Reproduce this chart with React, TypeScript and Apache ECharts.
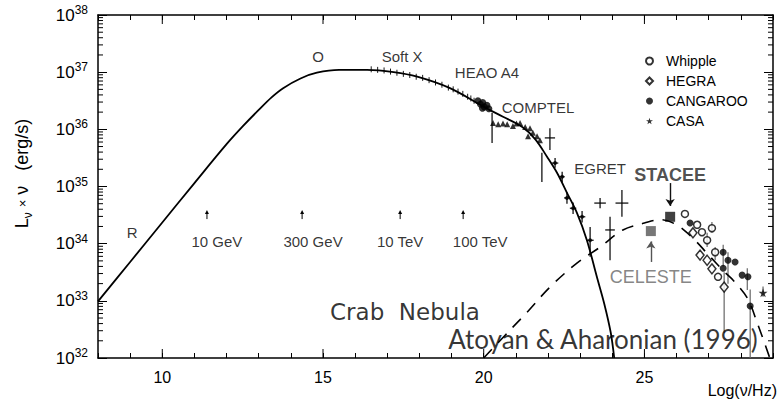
import React, { useEffect, useRef } from "react";
import * as echarts from "echarts";

const FONT = "'Liberation Sans', Arial, sans-serif";

// axis ranges (log10 values)
const X_MIN = 8;
const X_MAX = 29;
const Y_MIN = 32;
const Y_MAX = 38;
const xTickLabels = [10, 15, 20, 25];
const xMajorTicks = [10, 15, 20, 25];

// synchrotron model curve (log nu, log L*nu)
const syncX = [8.0, 9.0, 10.0, 11.0, 12.0, 12.5, 13.0, 13.4, 13.76, 14.3, 14.81, 15.5, 16.37, 17.2, 17.93, 18.95, 19.98, 20.6, 21.2, 21.6, 21.97, 22.28, 22.59, 22.9, 23.21, 23.53, 23.75, 23.95, 24.06];
const syncY = [32.99, 33.68, 34.37, 35.06, 35.74, 36.05, 36.34, 36.56, 36.72, 36.89, 36.99, 37.04, 37.04, 37.0, 36.92, 36.72, 36.4, 36.22, 36.04, 35.83, 35.52, 35.24, 34.89, 34.54, 34.06, 33.4, 32.95, 32.45, 32.0];

// inverse Compton model curve (dashed)
const icX = [20.0, 20.82, 21.35, 22.06, 22.9, 23.62, 24.33, 25.0, 25.5, 26.0, 26.5, 27.0, 27.5, 27.76, 28.2, 28.5, 28.9];
const icY = [32.0, 32.49, 32.8, 33.24, 33.66, 33.94, 34.24, 34.36, 34.42, 34.33, 34.1, 33.8, 33.5, 33.36, 33.05, 32.63, 32.0];

// optical / X-ray measurements (short vertical error marks)
const optXrayPts = [[16.5, 37.05], [16.7, 37.04], [16.9, 37.03], [17.1, 37.01], [17.3, 36.99], [17.5, 36.97], [17.7, 36.95], [17.9, 36.92], [18.1, 36.9], [18.3, 36.86], [18.5, 36.82], [18.7, 36.78], [18.9, 36.73], [19.05, 36.7], [19.2, 36.66], [19.35, 36.62], [19.5, 36.57], [19.6, 36.54], [19.7, 36.5]];

// HEAO A4 cluster
const heaoPts = [[19.82, 36.5], [19.9, 36.44], [19.97, 36.47], [20.02, 36.39], [20.1, 36.42], [19.96, 36.37], [20.16, 36.36]];

// COMPTEL triangles
const comptelPts = [[20.29, 36.11], [20.45, 36.09], [20.6, 36.1], [20.73, 36.09], [20.91, 36.06], [21.02, 36.1], [21.13, 36.11], [21.29, 36.04], [21.44, 36.02], [21.53, 35.94], [21.66, 35.88], [21.38, 35.88], [21.75, 35.81]];

// EGRET points
const egretPts = [[22.22, 35.41], [22.44, 35.17], [22.59, 34.8], [22.78, 34.62], [23.06, 34.47], [23.31, 34.06]];

// error bars [x, y, yLow, yHigh, xLow, xHigh]
const errBlack = [
  [20.26, 36.12, 35.76, 36.29, 20.26, 20.26],
  [22.06, 35.85, 35.64, 36.02, 21.9, 22.22],
  [21.81, 35.46, 35.08, 35.59, 21.81, 21.81],
  [22.22, 35.41, 35.33, 35.5, 22.12, 22.32],
  [22.44, 35.17, 35.08, 35.26, 22.36, 22.52],
  [22.59, 34.8, 34.7, 34.9, 22.5, 22.68],
  [22.78, 34.62, 34.52, 34.72, 22.68, 22.88],
  [23.06, 34.47, 34.37, 34.57, 22.96, 23.16],
  [23.31, 34.06, 33.77, 34.29, 23.2, 23.42],
  [23.62, 34.71, 34.62, 34.8, 23.44, 23.8],
  [24.3, 34.71, 34.47, 34.94, 24.1, 24.5],
  [23.93, 34.24, 33.71, 34.47, 23.78, 24.08],
];
const errGray = [
  [27.48, 33.24, 32.44, 33.5, 27.48, 27.48],
  [28.29, 32.91, 32.0, 33.2, 28.29, 28.29],
  [27.1, 34.27, 34.19, 34.38, 27.1, 27.1],
  [27.45, 33.85, 33.6, 33.98, 27.45, 27.45],
  [28.2, 33.42, 33.19, 33.57, 28.2, 28.2],
  [27.2, 33.85, 33.71, 33.94, 27.2, 27.2],
  [26.95, 34.06, 33.94, 34.19, 26.95, 26.95],
  [27.6, 33.71, 33.3, 33.85, 27.6, 27.6],
  [28.69, 33.14, 33.07, 33.25, 28.69, 28.69],
];

// TeV experiments
const whipplePts = [[26.26, 34.52], [26.64, 34.33], [26.79, 34.2], [26.95, 34.06], [27.1, 34.27], [27.2, 33.85], [27.29, 33.42]];
const hegraPts = [[26.51, 34.19], [26.73, 33.8], [26.95, 33.71], [27.1, 33.56], [27.48, 33.24]];
const cangarooPts = [[26.42, 34.36], [27.45, 33.85], [27.6, 33.71], [27.82, 33.68], [27.45, 33.57], [28.04, 33.45], [28.22, 33.42], [28.29, 32.91]];
const casaPts = [[28.69, 33.14]];
const celestePts = [[25.2, 34.22]];
const staceePts = [[25.8, 34.47]];
const legendNames = ["Whipple", "HEGRA", "CANGAROO", "CASA"];

// annotations
const bandLabels = ["R", "O", "Soft X", "HEAO A4", "COMPTEL", "EGRET"];
const bandLabelX = [9.06, 14.85, 17.46, 20.1, 21.69, 23.62];
const bandLabelY = [34.2, 37.27, 37.27, 36.99, 36.39, 35.32];
const energyLabels = ["10 GeV", "300 GeV", "10 TeV", "100 TeV"];
const energyLabelX = [11.7, 14.69, 17.4, 19.89];
const energyLabelY = 34.03;
const energyArrowX = [11.39, 14.35, 17.4, 19.36];
const energyArrowY = 34.5;

const STAR = "path://M50,0 L61,35 L98,35 L68,57 L79,91 L50,70 L21,91 L32,57 L2,35 L39,35 Z";

function errRender(color: string) {
  return (params: any, api: any) => {
    const x = api.value(0), y = api.value(1), ylo = api.value(2), yhi = api.value(3), xlo = api.value(4), xhi = api.value(5);
    const a = api.coord([x, ylo]);
    const b = api.coord([x, yhi]);
    const children: any[] = [
      { type: "line", shape: { x1: a[0], y1: a[1], x2: b[0], y2: b[1] }, style: { stroke: color, lineWidth: 1.2 } },
    ];
    if (xhi > xlo) {
      const l = api.coord([xlo, y]);
      const r = api.coord([xhi, y]);
      children.push({ type: "line", shape: { x1: l[0], y1: l[1], x2: r[0], y2: r[1] }, style: { stroke: color, lineWidth: 1.2 } });
    }
    return { type: "group", children };
  };
}

function labelSeries(xs: number[], ys: number[], texts: string[], style: any) {
  return {
    type: "scatter",
    symbolSize: 0,
    silent: true,
    z: 5,
    data: texts.map((t, i) => ({
      value: [xs[i], ys[i]],
      label: { show: true, position: "inside", formatter: t, ...style },
    })),
  };
}

export default function App() {
  const ref = useRef<HTMLDivElement>(null);
  useEffect(() => {
    if (!ref.current) return;
    const chart = echarts.init(ref.current, undefined, { renderer: "svg" });

    const yMinor: number[][] = [];
    for (let n = Y_MIN; n < Y_MAX; n++) {
      for (let k = 2; k <= 9; k++) yMinor.push([X_MIN, n + Math.log10(k)]);
    }

    const axisLine = { lineStyle: { color: "#000", width: 1.5 } };
    const option: any = {
      animation: false,
      backgroundColor: "#fff",
      textStyle: { fontFamily: FONT },
      grid: { left: 98, top: 15, width: 675, height: 343 },
      legend: {
        orient: "vertical",
        left: 640,
        top: 49,
        itemGap: 6,
        itemWidth: 7,
        itemHeight: 7,
        selectedMode: false,
        data: legendNames,
        textStyle: { fontSize: 14, color: "#000", fontFamily: FONT, padding: [0, 0, 0, 8] },
      },
      xAxis: [
        {
          type: "value", position: "bottom", min: X_MIN, max: X_MAX, interval: 1,
          axisLine, splitLine: { show: false },
          axisTick: { inside: true, length: 5, lineStyle: { color: "#000" } },
          axisLabel: {
            margin: 11, fontSize: 16, color: "#000", fontFamily: FONT,
            formatter: (v: number) => (xTickLabels.includes(v) ? String(v) : ""),
          },
        },
        {
          type: "value", position: "top", min: X_MIN, max: X_MAX, interval: 1,
          axisLine, splitLine: { show: false },
          axisTick: { inside: true, length: 5, lineStyle: { color: "#000" } },
          axisLabel: { show: false },
        },
      ],
      yAxis: [
        {
          type: "value", position: "left", min: Y_MIN, max: Y_MAX, interval: 1,
          axisLine, splitLine: { show: false },
          axisTick: { inside: true, length: 9, lineStyle: { color: "#000" } },
          axisLabel: {
            margin: 10, color: "#000",
            formatter: (v: number) => `{b|10}{s|${v}}`,
            rich: {
              b: { fontSize: 17, color: "#000", fontFamily: FONT, lineHeight: 22 },
              s: { fontSize: 12, color: "#000", fontFamily: FONT, verticalAlign: "top" },
            },
          },
          name: "L{sub|ν} {x|×} ν   (erg/s)",
          nameLocation: "middle",
          nameRotate: 90,
          nameGap: 64,
          nameTextStyle: {
            fontSize: 18, color: "#000", fontFamily: FONT, padding: [0, 0, 0, 26],
            rich: {
              sub: { fontSize: 12, color: "#000", fontFamily: FONT, verticalAlign: "bottom", lineHeight: 24 },
              x: { fontSize: 13, color: "#000", fontFamily: FONT },
            },
          },
        },
        {
          type: "value", position: "right", min: Y_MIN, max: Y_MAX, interval: 1,
          axisLine, splitLine: { show: false },
          axisTick: { inside: true, length: 9, lineStyle: { color: "#000" } },
          axisLabel: { show: false },
        },
      ],
      graphic: [
        { type: "text", right: 2, top: 382, style: { text: "Log(ν/Hz)", font: `16px ${FONT}`, fill: "#000" } },
      ],
      series: [
        {
          type: "custom", clip: false, silent: true, data: yMinor,
          renderItem: (params: any, api: any) => {
            const cs = params.coordSys;
            const y = api.coord([X_MIN, api.value(1)])[1];
            return {
              type: "group",
              children: [
                { type: "line", shape: { x1: cs.x, y1: y, x2: cs.x + 5, y2: y }, style: { stroke: "#000", lineWidth: 1 } },
                { type: "line", shape: { x1: cs.x + cs.width - 5, y1: y, x2: cs.x + cs.width, y2: y }, style: { stroke: "#000", lineWidth: 1 } },
              ],
            };
          },
        },
        {
          type: "custom", clip: false, silent: true, data: xMajorTicks.map((v) => [v, Y_MIN]),
          renderItem: (params: any, api: any) => {
            const cs = params.coordSys;
            const x = api.coord([api.value(0), Y_MIN])[0];
            return {
              type: "group",
              children: [
                { type: "line", shape: { x1: x, y1: cs.y + cs.height, x2: x, y2: cs.y + cs.height - 9 }, style: { stroke: "#000", lineWidth: 1 } },
                { type: "line", shape: { x1: x, y1: cs.y, x2: x, y2: cs.y + 9 }, style: { stroke: "#000", lineWidth: 1 } },
              ],
            };
          },
        },
        {
          // small energy arrows
          type: "custom", clip: false, silent: true, data: energyArrowX.map((x) => [x, energyArrowY]),
          renderItem: (params: any, api: any) => {
            const p = api.coord([api.value(0), api.value(1)]);
            return {
              type: "group",
              children: [
                { type: "line", shape: { x1: p[0], y1: p[1] + 4, x2: p[0], y2: p[1] - 3 }, style: { stroke: "#000", lineWidth: 1 } },
                { type: "polygon", shape: { points: [[p[0] - 2, p[1] - 1], [p[0] + 2, p[1] - 1], [p[0], p[1] - 5]] }, style: { fill: "#000" } },
              ],
            };
          },
        },
        {
          name: "sync", type: "line", showSymbol: false, smooth: 0.35,
          data: syncX.map((x, i) => [x, syncY[i]]),
          lineStyle: { color: "#000", width: 1.8 }, z: 3,
        },
        {
          name: "ic", type: "line", showSymbol: false, smooth: 0.35,
          data: icX.map((x, i) => [x, icY[i]]),
          lineStyle: { color: "#000", width: 1.6, type: [12, 9] }, z: 3,
        },
        {
          name: "optx", type: "custom", silent: true, data: optXrayPts,
          renderItem: (params: any, api: any) => {
            const p = api.coord([api.value(0), api.value(1)]);
            return { type: "line", shape: { x1: p[0], y1: p[1] - 3, x2: p[0], y2: p[1] + 3 }, style: { stroke: "#000", lineWidth: 0.9 } };
          },
        },
        { name: "errB", type: "custom", silent: true, data: errBlack, renderItem: errRender("#000") },
        { name: "errG", type: "custom", silent: true, data: errGray, renderItem: errRender("#666") },
        { name: "heao", type: "scatter", symbol: "circle", symbolSize: 7, data: heaoPts, itemStyle: { color: "#000" } },
        { name: "comptel", type: "scatter", symbol: "triangle", symbolSize: 6, data: comptelPts, itemStyle: { color: "#000" } },
        { name: "egret", type: "scatter", symbol: "circle", symbolSize: 4, data: egretPts, itemStyle: { color: "#000" } },
        {
          name: "CELESTE", type: "scatter", symbol: "rect", symbolSize: 10, data: celestePts, itemStyle: { color: "#555" },
          markLine: {
            silent: true, symbol: ["none", "arrow"], symbolSize: 7, label: { show: false },
            lineStyle: { color: "#555", width: 1.4, type: "solid" },
            data: [[{ coord: [25.2, 33.68] }, { coord: [25.2, 34.04] }]],
          },
        },
        {
          name: "STACEE", type: "scatter", symbol: "rect", symbolSize: 10, data: staceePts, itemStyle: { color: "#111" },
          markLine: {
            silent: true, symbol: ["none", "arrow"], symbolSize: 7, label: { show: false },
            lineStyle: { color: "#111", width: 1.4, type: "solid" },
            data: [[{ coord: [25.8, 35.06] }, { coord: [25.8, 34.66] }]],
          },
        },
        { name: "Whipple", type: "scatter", symbol: "circle", symbolSize: 7, data: whipplePts, itemStyle: { color: "#fff", borderColor: "#000", borderWidth: 1.5 }, z: 4 },
        { name: "HEGRA", type: "scatter", symbol: "diamond", symbolSize: [8, 10], data: hegraPts, itemStyle: { color: "#fff", borderColor: "#000", borderWidth: 1.5 }, z: 4 },
        { name: "CANGAROO", type: "scatter", symbol: "circle", symbolSize: 7, data: cangarooPts, itemStyle: { color: "#000" }, z: 4 },
        { name: "CASA", type: "scatter", symbol: STAR, symbolSize: 9, data: casaPts, itemStyle: { color: "#000" }, z: 4 },
        labelSeries(bandLabelX, bandLabelY, bandLabels, { fontSize: 15, color: "#000", fontFamily: FONT }),
        labelSeries(energyLabelX, energyLabelX.map(() => energyLabelY), energyLabels, { fontSize: 15, color: "#000", fontFamily: FONT }),
        labelSeries([25.8], [35.2], ["STACEE"], { fontSize: 18, fontWeight: "bold", color: "#222", fontFamily: FONT }),
        labelSeries([25.2], [33.42], ["CELESTE"], { fontSize: 18, color: "#666", fontFamily: FONT }),
        labelSeries([17.55], [32.8], ["Crab  Nebula"], { fontSize: 23, color: "#000", fontFamily: "'DejaVu Sans', sans-serif" }),
        labelSeries([23.71], [32.33], ["Atoyan & Aharonian (1996)"], { fontSize: 26, color: "#000", fontFamily: "Lato, 'Open Sans', sans-serif" }),
      ],
    };
    chart.setOption(option);
    return () => chart.dispose();
  }, []);
  return <div ref={ref} style={{ position: "fixed", left: 0, top: 0, width: 779, height: 400, background: "#fff" }} />;
}
